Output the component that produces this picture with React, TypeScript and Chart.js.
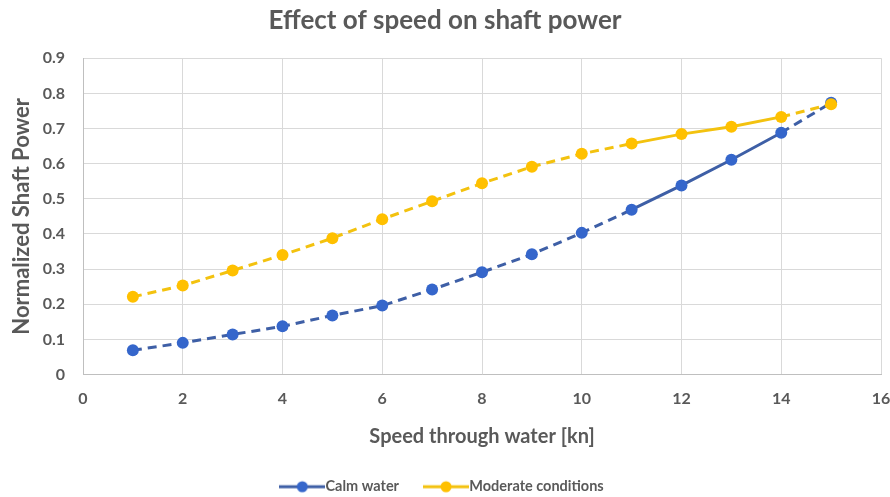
import React, { useEffect, useRef } from "react";
import { Chart, registerables } from "chart.js";

Chart.register(...registerables);

const speeds = [1, 2, 3, 4, 5, 6, 7, 8, 9, 10, 11, 12, 13, 14, 15];
const calmWater = [0.069, 0.09, 0.114, 0.137, 0.168, 0.196, 0.242, 0.291, 0.342, 0.403, 0.469, 0.538, 0.611, 0.688, 0.773];
const moderate = [0.221, 0.253, 0.296, 0.34, 0.388, 0.442, 0.493, 0.544, 0.591, 0.628, 0.657, 0.684, 0.705, 0.733, 0.769];
// first and last point index of the solid (measured) segment
const solidRange = [10, 13];

const TEXT = "#595959";
const FONT = "Lato, 'Open Sans', sans-serif";
const BLUE_LINE = "#3E5FA6";
const BLUE_PT = "#3566CB";
const YEL_LINE = "#F3C20F";
const YEL_PT = "#FFC000";

function legendIcon(line: string, pt: string) {
  const c = document.createElement("canvas");
  c.width = 46;
  c.height = 14;
  const g = c.getContext("2d")!;
  g.strokeStyle = line;
  g.lineWidth = 3;
  g.beginPath();
  g.moveTo(0, 7);
  g.lineTo(46, 7);
  g.stroke();
  g.fillStyle = pt;
  g.beginPath();
  g.arc(23, 7, 5.5, 0, Math.PI * 2);
  g.fill();
  return c;
}

export default function App() {
  const ref = useRef<HTMLCanvasElement>(null);
  useEffect(() => {
    document.body.style.margin = "0";
    const dash = (ctx: any) =>
      ctx.p0DataIndex >= solidRange[0] && ctx.p1DataIndex <= solidRange[1] ? [] : [9, 6];
    const icons = [legendIcon(BLUE_LINE, BLUE_PT), legendIcon(YEL_LINE, YEL_PT)];
    const chart = new Chart(ref.current!, {
      type: "line",
      data: {
        datasets: [
          {
            label: "Calm water",
            data: speeds.map((x, i) => ({ x, y: calmWater[i] })),
            borderColor: BLUE_LINE,
            backgroundColor: BLUE_PT,
            pointBackgroundColor: BLUE_PT,
            pointBorderColor: BLUE_PT,
            borderWidth: 3,
            pointRadius: 6,
            pointBorderWidth: 0,
            segment: { borderDash: dash },
            order: 1,
          },
          {
            label: "Moderate conditions",
            data: speeds.map((x, i) => ({ x, y: moderate[i] })),
            borderColor: YEL_LINE,
            backgroundColor: YEL_PT,
            pointBackgroundColor: YEL_PT,
            pointBorderColor: YEL_PT,
            borderWidth: 3,
            pointRadius: 6,
            pointBorderWidth: 0,
            segment: { borderDash: dash },
            order: 0,
          },
        ],
      },
      options: {
        animation: false,
        responsive: false,
        layout: { padding: { top: 0, left: 0, right: 0, bottom: -7 } },
        plugins: {
          title: {
            display: true,
            text: "Effect of speed on shaft power",
            color: TEXT,
            font: { family: FONT, size: 26, weight: "bold" },
            padding: { top: 5, bottom: 22 },
          },
          legend: {
            position: "bottom",
            labels: {
              usePointStyle: true,
              pointStyleWidth: 32,
              color: TEXT,
              font: { family: FONT, size: 14.5, weight: "bold" },
              padding: 31,
              generateLabels: (ch: any) =>
                ch.data.datasets.map((d: any, i: number) => ({
                  text: d.label,
                  fillStyle: d.backgroundColor,
                  strokeStyle: d.borderColor,
                  lineWidth: 0,
                  pointStyle: icons[i],
                  datasetIndex: i,
                  hidden: false,
                  fontColor: TEXT,
                })),
            },
          },
          tooltip: { enabled: false },
        },
        scales: {
          x: {
            type: "linear",
            min: 0,
            max: 16,
            ticks: { stepSize: 2, color: TEXT, font: { family: FONT, size: 16, weight: "bold" }, padding: 15 },
            grid: { color: "#D9D9D9", drawTicks: false },
            border: { color: "#BFBFBF" },
            title: {
              display: true,
              text: "Speed through water [kn]",
              color: TEXT,
              font: { family: FONT, size: 20, weight: "bold" },
              padding: { top: 8, bottom: 0 },
            },
            afterFit: (s: any) => {
              s.height = 74;
              s.paddingRight = 9;
            },
          },
          y: {
            min: 0,
            max: 0.9,
            ticks: {
              stepSize: 0.1,
              color: TEXT,
              font: { family: FONT, size: 16, weight: "bold" },
              padding: 18,
              callback: (v: any) => String(Math.round(Number(v) * 10) / 10),
            },
            grid: { color: "#D9D9D9", drawTicks: false },
            border: { color: "#BFBFBF" },
            title: {
              display: true,
              text: "Normalized Shaft Power",
              color: TEXT,
              font: { family: FONT, size: 22, weight: "bold" },
              padding: { top: 9, bottom: 0 },
            },
            afterFit: (s: any) => {
              s.width = 83;
            },
          },
        },
      },
    } as any);
    return () => chart.destroy();
  }, []);
  return (
    <div style={{ width: 890, height: 497 }}>
      <canvas ref={ref} width={890} height={497} />
    </div>
  );
}
